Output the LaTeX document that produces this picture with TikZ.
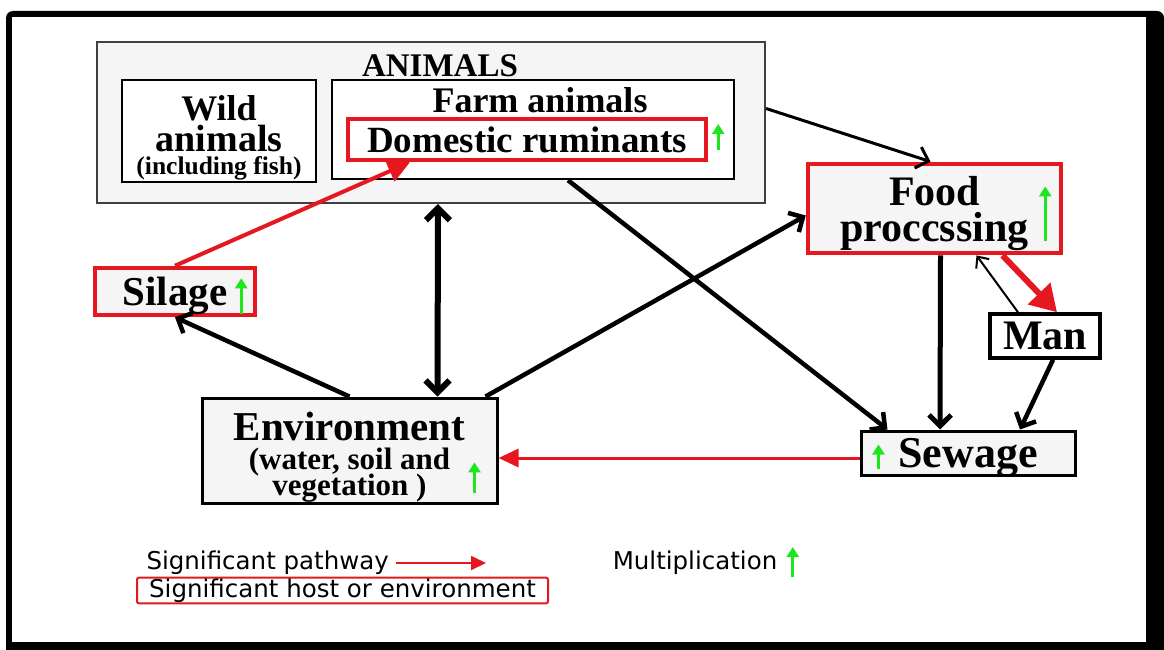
\documentclass[tikz,border=0pt]{standalone}
\usepackage{fontspec}
\setmainfont{Liberation Serif}
\newfontfamily\legendfont{DejaVu Sans}
\usetikzlibrary{arrows.meta}
\definecolor{sigred}{RGB}{228,24,30}
\definecolor{multgreen}{RGB}{30,230,30}
\definecolor{boxgray}{RGB}{245,245,245}
\tikzset{
  plainbox/.style={draw, line width=3pt, fill=boxgray, align=center, inner sep=2pt, font=\bfseries},
  hostbox/.style={plainbox, draw=sigred, line width=4.5pt},
  flowarrow/.style={-{Straight Barb[length=11pt,width=22pt]}, line width=4.5pt},
  bothway/.style={{Straight Barb[length=12pt,width=24pt]}-{Straight Barb[length=12pt,width=24pt]}, line width=6pt},
  sigarrow/.style={-{Triangle[length=22pt,width=22pt]}, color=sigred, line width=4pt},
  multarrow/.style={-{Triangle[length=10pt,width=12pt]}, color=multgreen, line width=3pt},
  legendtext/.style={font=\legendfont\fontsize{24.5}{24.5}\selectfont}
}

\begin{document}
\begin{tikzpicture}[x=1pt, y=-1pt]
  \useasboundingbox (0,0) rectangle (1164,650);
  \fill (6,650) [rounded corners=7pt] -- (6,11) -- (1164,11) [sharp corners] -- (1164,650) -- cycle;
  \fill[white] (12,17) rectangle (1146,642);

  \node[plainbox, draw=black!75, line width=2pt, minimum width=668pt, minimum height=161pt] (animals) at (431,122.5) {};
  \node[font=\fontsize{33}{33}\selectfont\bfseries] (animalstitle) at (440,66) {ANIMALS};
  \node[plainbox, line width=2.5pt, fill=white, minimum width=194pt, minimum height=90pt, font=\fontsize{36}{30}\selectfont\bfseries] (wild) at (219,131) {\rule{0pt}{38pt}Wild\\[1pt]{\fontsize{38}{30}\selectfont animals}\\[-7pt]{\fontsize{25.5}{30}\selectfont (including fish)}};
  \node[plainbox, line width=2.5pt, fill=white, minimum width=402pt, minimum height=99pt] (farm) at (533,129.5) {};
  \node[font=\fontsize{36}{36}\selectfont\bfseries] (farmtitle) at (540,100) {Farm animals};
  \node[hostbox, fill=white, minimum width=358pt, minimum height=41pt, font=\fontsize{37}{37}\selectfont\bfseries] (rumin) at (527,139.5) {Domestic ruminants};
  \node[hostbox, minimum width=253pt, minimum height=81pt, font=\fontsize{42}{34}\selectfont\bfseries] (food) at (934.5,208.5) {\rule{0pt}{40pt}Food\\[2pt]proccssing};
  \node[plainbox, line width=3.5pt, fill=white, minimum width=110pt, minimum height=44pt, font=\fontsize{42}{42}\selectfont\bfseries] (man) at (1045,336) {Man};
  \node[plainbox, minimum width=214pt, minimum height=44pt, text depth=0pt, font=\fontsize{44}{44}\selectfont\bfseries] (sewage) at (968,453) {Sewage};
  \node[hostbox, minimum width=160pt, minimum height=47pt, text depth=0pt, font=\fontsize{41}{41}\selectfont\bfseries] (silage) at (175,291.5) {Silage};
  \node[plainbox, minimum width=295pt, minimum height=98pt, font=\fontsize{41}{30}\selectfont\bfseries] (env) at (349.5,451) {\rule{0pt}{40pt}Environment\\[-1pt]{\fontsize{31}{30}\selectfont (water, soil and}\\[-4pt]{\fontsize{31}{30}\selectfont vegetation )}};

  \draw[multarrow] ([xshift=10pt,yshift=-10.5pt]rumin.east) -- ++(0,-26);
  \draw[multarrow] ([xshift=-18pt,yshift=14pt]food.south east) -- ++(0,-55);
  \draw[multarrow] ([xshift=-16pt,yshift=3pt]silage.south east) -- ++(0,-36);
  \draw[multarrow] ([xshift=-24pt,yshift=12pt]env.south east) -- ++(0,-31);
  \draw[multarrow] ([xshift=19pt,yshift=8pt]sewage.south west) -- ++(0,-24);

  \draw[sigarrow] (silage.north) -- ([xshift=-117pt]rumin.south);
  \draw[flowarrow] (env.north) -- (silage.south);
  \draw[bothway] ([xshift=7pt]animals.south) -- ([xshift=88pt]env.north);
  \draw[flowarrow] ([xshift=-13pt]env.north east) -- ([yshift=-7pt]food.west);
  \draw[flowarrow] ([xshift=35pt]farm.south) -- ([xshift=28pt]sewage.north west);
  \draw[flowarrow, line width=3pt] ([yshift=14pt]animals.east) -- ([xshift=-4pt]food.north);
  \draw[flowarrow, line width=5pt] ([xshift=6pt]food.south) -- ([xshift=-28pt]sewage.north);
  \draw[flowarrow, line width=2pt, -{Straight Barb[length=9pt,width=16pt]}] ([xshift=-27pt]man.north) -- ([xshift=42pt]food.south);
  \draw[sigarrow, line width=6pt, -{Triangle[length=26pt,width=30pt]}] ([xshift=68pt]food.south) -- ([xshift=12pt]man.north);
  \draw[flowarrow] ([xshift=8pt]man.south) -- ([xshift=52pt]sewage.north);
  \draw[sigarrow, line width=3pt, -{Triangle[length=20pt,width=18pt]}] ([yshift=-5pt]sewage.west) -- ([yshift=-7pt]env.east);

  \node[legendtext, anchor=west] (legpath) at (143,563) {Significant pathway};
  \coordinate (legpathend) at (486,563);
  \draw[sigarrow, line width=2pt, -{Triangle[length=15pt,width=14pt]}] ([xshift=4pt]legpath.east) -- (legpathend);
  \node[legendtext, draw=sigred, line width=2pt, rounded corners=2pt, minimum width=411pt, minimum height=25pt, inner sep=1pt] (leghost) at (342.5,590.5) {Significant host or environment};
  \node[legendtext] (legmult) at (695,563) {Multiplication};
  \draw[multarrow] ([xshift=12pt,yshift=-14pt]legmult.east) -- ++(0,-30);
\end{tikzpicture}
\end{document}
